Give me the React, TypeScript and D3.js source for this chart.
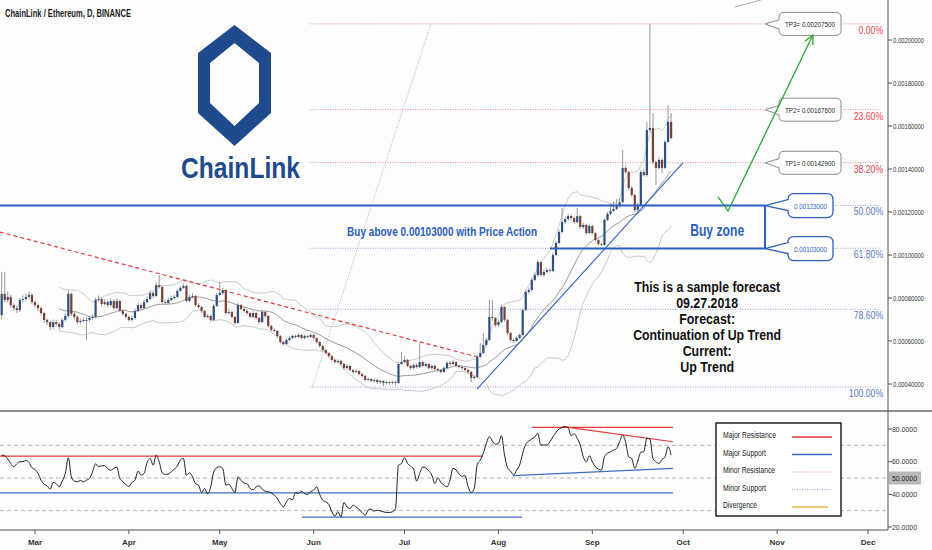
import React from "react";
import * as d3 from "d3";

const START_UTC = Date.UTC(2018, 1, 18);
const DAY_MS = 86400000;
const UNIT = 1e-6;

// daily candles, prices in 1e-6 ETH
const firstOpen = 721;
const closeVals = [
  819,791,805,767,753,744,791,795,805,814,
  781,767,753,730,698,688,665,688,679,665,
  698,716,819,726,712,688,693,698,698,707,
  712,791,795,772,781,767,786,753,786,740,
  726,712,698,707,740,767,753,781,795,823,
  809,860,851,781,777,791,800,805,833,847,
  856,786,805,809,767,758,740,712,716,698,
  763,814,823,837,730,735,712,684,767,749,
  740,730,712,730,707,688,735,716,670,651,
  647,623,595,586,605,614,623,619,628,614,
  623,619,628,614,595,577,558,544,530,512,
  502,507,493,474,484,465,456,460,446,437,
  419,423,414,419,409,414,405,409,405,409,
  405,493,502,512,484,474,488,479,502,484,
  493,474,484,470,465,456,474,498,493,502,
  484,479,474,465,456,428,433,526,544,581,
  605,712,707,674,688,758,698,637,605,600,
  614,628,744,828,837,884,907,967,907,921,
  930,926,1000,1056,1107,1153,1167,1181,1172,1153,
  1181,1130,1140,1102,1135,1102,1070,1051,1047,1163,
  1191,1205,1214,1228,1246,1405,1386,1312,1279,1209,
  1233,1386,1372,1581,1591,1432,1405,1442,1405,1526,
  1619,1544,
];
const highVals = [
  921,921,830,815,775,765,800,812,820,830,
  822,790,775,760,735,705,695,700,698,688,
  705,728,837,825,735,718,705,710,712,718,
  722,800,812,805,795,790,798,795,800,792,
  748,732,718,716,750,778,775,792,808,835,
  832,872,907,856,790,800,810,815,842,856,
  866,862,815,822,815,775,765,745,725,722,
  772,825,874,848,842,748,742,718,776,772,
  758,748,736,740,736,712,744,742,722,676,
  660,652,628,600,612,622,630,630,636,634,
  630,628,636,632,618,600,582,562,548,535,
  518,515,512,498,492,490,470,468,464,452,
  442,430,428,426,422,420,418,416,414,416,
  414,500,549,530,518,490,496,495,591,508,
  500,498,490,490,476,470,482,506,506,512,
  506,490,485,478,470,460,442,535,591,637,
  615,791,791,712,700,770,762,702,642,612,
  622,636,752,838,848,895,918,978,972,932,
  940,938,1010,1066,1118,1219,1178,1192,1190,1180,
  1219,1186,1150,1146,1145,1140,1106,1075,1058,1172,
  1200,1240,1250,1260,1265,1488,1415,1392,1320,1285,
  1245,1395,1400,1620,2075,1660,1440,1455,1450,1535,
  1698,1660,
];
const lowVals = [
  700,780,780,755,740,730,735,780,785,795,
  770,755,740,720,685,675,650,655,668,652,
  660,690,710,715,700,678,680,685,605,690,
  700,705,782,762,765,758,760,745,748,735,
  718,705,690,690,700,735,745,748,775,790,
  800,805,845,775,770,772,785,795,800,828,
  842,780,780,798,760,750,732,705,705,690,
  693,758,808,815,722,722,705,675,680,742,
  732,722,705,705,700,680,684,708,662,645,
  640,615,588,578,580,600,608,612,614,608,
  608,612,614,606,588,570,550,536,522,505,
  495,496,486,466,468,458,448,450,440,430,
  412,412,406,405,400,402,390,398,396,398,
  395,400,488,496,478,466,468,472,474,478,
  478,468,468,462,458,448,450,470,486,488,
  478,472,466,458,446,409,420,428,520,540,
  575,600,695,665,666,684,690,628,596,590,
  595,608,624,740,820,830,878,900,900,898,
  915,918,920,995,1050,1100,1145,1160,1162,1145,
  1148,1122,1122,1095,1098,1095,1062,1044,1040,1042,
  1158,1185,1200,1208,1220,1240,1378,1300,1270,1200,
  1200,1228,1365,1365,1570,1420,1326,1398,1380,1400,
  1520,1538,
];
const rsiVals = [
  64.0,63.6,61.6,58.9,56.9,58.7,60.0,60.0,60.8,59.5,
  56.3,55.2,52.8,48.7,46.2,45.2,43.2,47.3,46.5,44.6,
  48.1,52.8,62.4,50.7,48.1,47.7,48.5,47.7,48.7,49.7,
  53.8,58.7,56.9,57.5,57.5,55.5,54.8,55.8,56.7,49.7,
  47.7,46.0,44.8,47.3,48.7,54.2,51.8,52.8,59.5,62.0,
  57.9,64.0,59.9,53.2,52.2,52.4,53.8,55.5,57.3,61.0,
  62.0,51.8,53.2,50.7,46.5,45.6,41.1,43.6,40.3,44.6,
  53.8,56.3,56.9,55.9,45.6,46.2,43.6,41.1,50.7,48.5,
  46.9,46.5,43.6,42.8,44.6,45.2,43.2,41.9,41.5,40.9,
  39.5,37.5,34.4,32.3,35.4,37.5,36.6,41.1,40.7,41.9,
  40.5,39.9,41.5,42.6,44.6,39.9,36.4,35.4,33.8,29.3,
  26.6,29.3,26.2,35.0,32.3,31.3,33.4,32.3,30.7,28.9,
  27.2,30.3,30.9,29.7,30.3,29.9,29.3,28.9,28.9,29.3,
  31.3,57.9,58.9,62.4,58.9,57.3,55.5,48.1,52.8,56.7,
  56.1,54.4,51.8,46.6,50.1,47.3,45.6,44.6,48.7,55.9,
  55.0,52.4,51.1,51.4,44.6,41.1,43.6,58.3,61.0,65.1,
  71.2,75.3,72.6,70.6,71.2,75.9,64.0,56.3,54.2,51.8,
  54.8,57.9,65.1,70.6,72.6,73.9,75.1,77.3,70.2,70.2,
  70.2,72.2,75.3,77.9,80.0,80.8,81.4,80.8,75.9,77.1,
  74.3,70.2,63.0,59.9,63.6,59.9,56.9,55.5,54.8,63.0,
  65.1,66.1,67.1,68.1,72.2,76.3,71.8,63.0,62.0,55.9,
  60.4,65.7,66.1,74.3,73.7,62.0,59.9,58.9,61.4,62.8,
  69.1,64.0,
];

const priceTicks = [0.0004, 0.0006, 0.0008, 0.001, 0.0012, 0.0014, 0.0016, 0.0018, 0.002];
const rsiTicks = [20, 40, 60, 80];
const rsiHighlight = 50;
const rsiBands = [70, 50, 30];
const monthNames = ["Mar", "Apr", "May", "Jun", "Jul", "Aug", "Sep", "Oct", "Nov", "Dec"];
const monthIdx = [2, 3, 4, 5, 6, 7, 8, 9, 10, 11];

const fibHigh = 0.002075;
const fibLow = 0.000386;
const fibLevels = [0, 0.236, 0.382, 0.5, 0.618, 0.786, 1];
const fibLabels = ["0.00%", "23.60%", "38.20%", "50.00%", "61.80%", "78.60%", "100.00%"];
const fibSpan = [101.8, 290];
const fibDiagonal = [[102.5, 0.000386], [141.7, 0.002075]];

const tpNames = ["TP3= 0.00207500", "TP2= 0.00167600", "TP1= 0.00142900"];
const tpPrices = [0.002075, 0.001676, 0.001429];
const zoneNames = ["0.00123000", "0.00103000"];
const zonePrices = [0.00123, 0.00103];
const zoneTopSpan = [-0.6, 252];
const zoneBottomSpan = [181, 252];
const calloutDay = 252;

const redTrend = [[-0.6, 0.001107], [157, 0.000526]];
const blueTrend = [[157, 0.000377], [224.9, 0.001428]];
const greenPath = [[236.5, 0.00127], [239.8, 0.001205], [267.8, 0.002023]];
const grayFragment = [[242, 0.002153], [251, 0.002188]];

const rsiResistance = [
  [[-0.6, 63.4], [158.9, 63.4]],
  [[175.1, 81], [221.6, 81]],
  [[185.3, 81.4], [221.6, 72.2]],
];
const rsiSupport = [
  [[-0.6, 40.9], [221.6, 40.9]],
  [[99.1, 26], [171.8, 26]],
  [[168.8, 51.4], [221.6, 55.9]],
];

const buyAboveText = "Buy above 0.00103000 with Price Action";
const buyAboveAnchor = [145.4, 0.00109];
const buyZoneText = "Buy zone";
const buyZoneAnchor = [236.2, 0.00109];
const forecastLines = ["This is a sample forecast", "09.27.2018", "Forecast:", "Continuation of Up Trend", "Current:", "Up Trend"];
const forecastWidths = [146, 62, 56, 148, 49, 54];
const forecastAnchor = [232.9, 0.000828];
const legendNames = ["Major Resistance", "Major Support", "Minor Resistance", "Minor Support", "Divergence"];
const legendWidths = [53, 43, 52, 43, 34];
const titleText = "ChainLink / Ethereum, D, BINANCE";
const logoText = "ChainLink";

const NARROW = "'Liberation Sans Narrow','Arial Narrow','Liberation Sans',Arial,sans-serif";
const SANS = "'Liberation Sans',Arial,sans-serif";
const BLUE = "#2c5fc0";
const LOGO = "#1f4a8e";
const RED = "#e53935";

function callout(tx: number, ty: number, x0: number, y0: number, w: number, h: number, r: number, pt: number, pb: number) {
  return `M${tx},${ty} L${x0},${pt} L${x0},${y0 + r} Q${x0},${y0} ${x0 + r},${y0} L${x0 + w - r},${y0} Q${x0 + w},${y0} ${x0 + w},${y0 + r} L${x0 + w},${y0 + h - r} Q${x0 + w},${y0 + h} ${x0 + w - r},${y0 + h} L${x0 + r},${y0 + h} Q${x0},${y0 + h} ${x0},${y0 + h - r} L${x0},${pb} Z`;
}

export default function App() {
  const W = 932, H = 550;
  const axisX = 888;
  const sepY = 411;
  const botY = 530;

  const x = d3.scaleUtc().domain([new Date(Date.UTC(2018, 2, 1)), new Date(Date.UTC(2018, 11, 1))]).range([35, 868]);
  const xd = (d: number) => x(new Date(START_UTC + d * DAY_MS));
  const y = d3.scaleLinear().domain([0.0004, 0.002]).range([384, 40]);
  const yr = d3.scaleLinear().domain([20, 80]).range([527, 429]);

  const candles = closeVals.map((c, i) => ({ i, o: i === 0 ? firstOpen : closeVals[i - 1], c, h: highVals[i], l: lowVals[i] }));

  const bb = closeVals.map((_, i) => {
    if (i < 19) return null;
    const w = closeVals.slice(i - 19, i + 1);
    const m = d3.mean(w) as number;
    const sd = Math.sqrt(d3.mean(w.map((v) => (v - m) * (v - m))) as number);
    return { i, m, u: m + 2 * sd, l: m - 2 * sd };
  });
  const bbLine = (key: "m" | "u" | "l") =>
    d3.line<any>().defined((d) => d !== null).x((d) => xd(d.i)).y((d) => y(d[key] * UNIT))(bb as any) || "";

  const pLine = (pts: number[][]) => d3.line<number[]>().x((p) => xd(p[0])).y((p) => y(p[1]))(pts) || "";
  const rLine = (pts: number[][]) => d3.line<number[]>().x((p) => xd(p[0])).y((p) => yr(p[1]))(pts) || "";
  const rsiPath = d3.line<number>().x((_, i) => xd(i)).y((v) => yr(v)).curve(d3.curveMonotoneX)(rsiVals) || "";

  const tipX = xd(calloutDay);

  const g1 = greenPath[1], g2 = greenPath[2];
  const ax = xd(g2[0]), ay = y(g2[1]);
  const bx = xd(g1[0]), by = y(g1[1]);
  const ang = Math.atan2(by - ay, bx - ax);
  const hl = 10;
  const head = `M${ax + hl * Math.cos(ang - 0.45)},${ay + hl * Math.sin(ang - 0.45)} L${ax},${ay} L${ax + hl * Math.cos(ang + 0.45)},${ay + hl * Math.sin(ang + 0.45)}`;

  const fibPrice = (lv: number) => fibHigh - lv * (fibHigh - fibLow);

  const cx = 234.5;
  const outer = [[cx, 25], [271, 53], [271, 113], [cx, 146], [198, 113], [198, 53]];
  const inner = [[cx, 43], [259, 63], [259, 103], [cx, 126], [210, 103], [210, 63]];
  const poly = (p: number[][]) => "M" + p.map((q) => q.join(",")).join("L") + "Z";

  const [fx, fy] = [xd(forecastAnchor[0]), y(forecastAnchor[1])];

  return (
    <svg width={W} height={H} style={{ position: "absolute", left: 0, top: 0, background: "#fdfdfd" }} fontFamily={SANS}>
      <defs>
        <clipPath id="mainClip"><rect x={0} y={0} width={axisX} height={sepY} /></clipPath>
        <clipPath id="rsiClip"><rect x={0} y={sepY + 1} width={axisX} height={botY - sepY - 1} /></clipPath>
      </defs>
      <rect x={0} y={0} width={W} height={H} fill="#fdfdfd" />

      <text x={5} y={17} fontFamily={NARROW} fontWeight="bold" fontSize={10.5} fill="#222" textLength={126} lengthAdjust="spacingAndGlyphs">{titleText}</text>

      <path d={poly(outer) + poly(inner)} fill={LOGO} fillRule="evenodd" />
      <text x={181} y={178} fontFamily={NARROW} fontWeight="bold" fontSize={30} fill={LOGO} textLength={119} lengthAdjust="spacingAndGlyphs">{logoText}</text>

      <g clipPath="url(#mainClip)">
        {fibLevels.map((lv, k) => (
          <line key={"fib" + k} x1={xd(fibSpan[0])} x2={xd(fibSpan[1])} y1={y(fibPrice(lv))} y2={y(fibPrice(lv))}
            stroke={lv < 0.5 ? "#e88a92" : "#8ea5d8"} strokeWidth={1} strokeDasharray="1,1.5" />
        ))}
        <path d={pLine(fibDiagonal)} stroke="#b0b0b0" strokeWidth={1} strokeDasharray="1,1.5" fill="none" />
        {fibLevels.map((lv, k) => (
          <text key={"fl" + k} x={xd(fibSpan[1]) + 3} y={y(fibPrice(lv)) + 10} textAnchor="end" fontSize={10}
            fill={lv < 0.5 ? "#f0434f" : "#5a7cc4"} textLength={fibLabels[k].length * 4.9} lengthAdjust="spacingAndGlyphs">{fibLabels[k]}</text>
        ))}

        <path d={bbLine("u")} stroke="#c4c4c4" strokeWidth={0.9} fill="none" />
        <path d={bbLine("l")} stroke="#c4c4c4" strokeWidth={0.9} fill="none" />
        <path d={bbLine("m")} stroke="#9a9a9a" strokeWidth={1} fill="none" />

        {candles.map((c) => {
          const px = xd(c.i);
          const bull = c.c >= c.o;
          const top = y(Math.max(c.o, c.c) * UNIT);
          const bot = y(Math.min(c.o, c.c) * UNIT);
          return (
            <g key={"c" + c.i}>
              <line x1={px} x2={px} y1={y(c.h * UNIT)} y2={y(c.l * UNIT)} stroke="#9a9a9a" strokeWidth={1} />
              <rect x={px - 1.1} width={2.2} y={top} height={Math.max(0.9, bot - top)} fill={bull ? "#2e4f80" : "#7a3f36"} />
            </g>
          );
        })}

        <path d={pLine(redTrend)} stroke={RED} strokeWidth={1.2} strokeDasharray="4,3" fill="none" />
        <path d={pLine(blueTrend)} stroke="#3560c8" strokeWidth={1.1} fill="none" />

        <line x1={xd(zoneTopSpan[0])} x2={xd(zoneTopSpan[1])} y1={y(zonePrices[0])} y2={y(zonePrices[0])} stroke={BLUE} strokeWidth={2} />
        <line x1={xd(zoneBottomSpan[0])} x2={xd(zoneBottomSpan[1])} y1={y(zonePrices[1])} y2={y(zonePrices[1])} stroke={BLUE} strokeWidth={2} />
        <line x1={tipX} x2={tipX} y1={y(zonePrices[0])} y2={y(zonePrices[1])} stroke={BLUE} strokeWidth={2} />

        {tpPrices.map((p, k) => {
          const ty = y(p);
          return (
            <g key={"tp" + k}>
              <path d={callout(tipX, ty, tipX + 14, ty - 11.5, 62, 23, 5, ty - 4, ty + 5)} fill="#fff" stroke="#8a8a8a" strokeWidth={1} />
              <text x={tipX + 45} y={ty + 3} textAnchor="middle" fontSize={8} fill="#222" textLength={50} lengthAdjust="spacingAndGlyphs">{tpNames[k]}</text>
            </g>
          );
        })}
        {zonePrices.map((p, k) => {
          const ty = y(p);
          return (
            <g key={"zc" + k}>
              <path d={callout(tipX, ty, tipX + 23, ty - 12, 45, 24, 6, ty - 6, ty + 5)} fill="#fff" stroke={BLUE} strokeWidth={1.3} />
              <text x={tipX + 45.5} y={ty + 3} textAnchor="middle" fontSize={7.5} fill={BLUE} textLength={33} lengthAdjust="spacingAndGlyphs">{zoneNames[k]}</text>
            </g>
          );
        })}

        <path d={pLine(greenPath)} stroke="#2aa836" strokeWidth={1.3} fill="none" />
        <path d={head} stroke="#2aa836" strokeWidth={1.3} fill="none" />
        <path d={pLine(grayFragment)} stroke="#999" strokeWidth={0.8} fill="none" />

        <text x={xd(buyAboveAnchor[0])} y={y(buyAboveAnchor[1])} textAnchor="middle" fontFamily={NARROW} fontWeight="bold" fontSize={13} fill={BLUE} textLength={190} lengthAdjust="spacingAndGlyphs">{buyAboveText}</text>
        <text x={xd(buyZoneAnchor[0])} y={y(buyZoneAnchor[1])} textAnchor="middle" fontFamily={NARROW} fontWeight="bold" fontSize={17} fill={BLUE} textLength={54} lengthAdjust="spacingAndGlyphs">{buyZoneText}</text>
        {forecastLines.map((t, k) => (
          <text key={"fc" + k} x={fx} y={fy + k * 16} textAnchor="middle" fontFamily={NARROW} fontWeight="bold" fontSize={14}
            fill="#111" textLength={forecastWidths[k]} lengthAdjust="spacingAndGlyphs">{t}</text>
        ))}
      </g>

      <line x1={0} x2={W} y1={sepY} y2={sepY} stroke="#6a6a6a" strokeWidth={1.5} />
      <line x1={axisX} x2={axisX} y1={0} y2={botY} stroke="#555" strokeWidth={1} />
      <line x1={0} x2={axisX} y1={botY} y2={botY} stroke="#555" strokeWidth={1} />
      {priceTicks.map((p) => (
        <g key={"pt" + p}>
          <line x1={axisX} x2={axisX + 4} y1={y(p)} y2={y(p)} stroke="#555" />
          <text x={axisX + 5} y={y(p) + 2.7} fontSize={7.5} fill="#333" textLength={31} lengthAdjust="spacingAndGlyphs">{p.toFixed(8)}</text>
        </g>
      ))}

      <g clipPath="url(#rsiClip)">
        {rsiBands.map((b) => (
          <line key={"rb" + b} x1={0} x2={axisX} y1={yr(b)} y2={yr(b)} stroke="#b5b5b5" strokeWidth={1} strokeDasharray="4,3" />
        ))}
        {rsiResistance.map((pts, k) => (
          <path key={"rr" + k} d={rLine(pts)} stroke={RED} strokeWidth={1.2} fill="none" />
        ))}
        {rsiSupport.map((pts, k) => (
          <path key={"rs" + k} d={rLine(pts)} stroke="#3f6cc4" strokeWidth={1.2} fill="none" />
        ))}
        <path d={rsiPath} stroke="#222" strokeWidth={1} fill="none" />

        <rect x={716} y={423} width={125} height={93} fill="#fff" stroke="#222" strokeWidth={1.5} />
        {legendNames.map((n, k) => {
          const ly = 437 + k * 17.5;
          const stroke = [RED, "#3f6cc4", "#f08a8a", "#8fa0d8", "#f5b342"][k];
          return (
            <g key={"lg" + k}>
              <text x={723} y={ly + 1} fontFamily={NARROW} fontSize={8.5} fill="#222" textLength={legendWidths[k]} lengthAdjust="spacingAndGlyphs">{n}</text>
              <line x1={792} x2={k === 4 ? 828 : 832} y1={ly} y2={ly} stroke={stroke} strokeWidth={k === 2 || k === 3 ? 1 : 1.3} strokeDasharray={k === 2 || k === 3 ? "1,1.5" : undefined} />
            </g>
          );
        })}
      </g>
      {rsiTicks.map((t) => (
        <g key={"rt" + t}>
          <line x1={axisX} x2={axisX + 4} y1={yr(t)} y2={yr(t)} stroke="#555" />
          <text x={axisX + 4} y={yr(t) + 2.7} fontSize={7.5} fill="#333" textLength={25} lengthAdjust="spacingAndGlyphs">{t.toFixed(4)}</text>
        </g>
      ))}
      <rect x={axisX + 1} y={yr(rsiHighlight) - 6.5} width={32} height={13} fill="#b8b8b8" />
      <text x={axisX + 4} y={yr(rsiHighlight) + 2.7} fontSize={7.5} fill="#222" textLength={25} lengthAdjust="spacingAndGlyphs">{rsiHighlight.toFixed(4)}</text>

      {monthIdx.map((m, k) => {
        const mx = x(new Date(Date.UTC(2018, m, 1)));
        return (
          <g key={"m" + m}>
            <line x1={mx} x2={mx} y1={botY} y2={botY + 4} stroke="#555" />
            <text x={mx} y={545} textAnchor="middle" fontSize={8} fontWeight={600} fill="#333">{monthNames[k]}</text>
          </g>
        );
      })}
    </svg>
  );
}
